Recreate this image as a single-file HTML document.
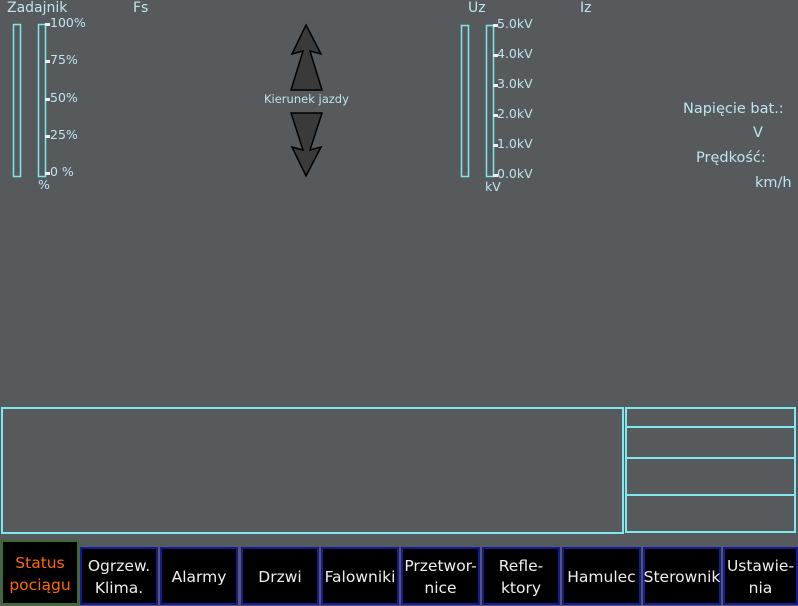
<!DOCTYPE html>
<html><head><style>
body{margin:0;width:798px;height:606px;background:#575a5c;position:relative;overflow:hidden;font-family:"DejaVu Sans","Liberation Sans",sans-serif;}
.t{position:absolute;color:#bfe4ee;white-space:nowrap;}
.b{position:absolute;border:2px solid #7fe8ee;box-sizing:border-box;}
.btn{position:absolute;background:#000;border:2px solid #101a9a;box-sizing:border-box;color:#eee;font-size:15.5px;display:flex;align-items:center;justify-content:center;text-align:center;line-height:22px;padding-top:2px;}
</style></head><body>
<div class="t" style="left:7px;top:0px;font-size:14px">Zadajnik</div>
<div class="t" style="left:133px;top:0px;font-size:14px">Fs</div>
<div class="t" style="left:468px;top:0px;font-size:14px">Uz</div>
<div class="t" style="left:580px;top:0px;font-size:14px">Iz</div>
<svg width="798" height="606" style="position:absolute;left:0;top:0">
<g fill="none" stroke="#7fe8ee" stroke-width="1.5">
<rect x="13.5" y="24.5" width="7" height="152"/>
<rect x="38.5" y="24.5" width="7" height="152"/>
<rect x="461.5" y="25.5" width="7" height="151"/>
<rect x="486.5" y="25.5" width="7" height="151"/>
</g>
<g fill="#eee">
<rect x="45" y="23" width="5" height="3"/><rect x="45" y="60" width="5" height="3"/><rect x="45" y="98" width="5" height="3"/><rect x="45" y="135" width="5" height="3"/><rect x="45" y="172" width="5" height="3"/>
<rect x="493" y="24" width="5" height="3"/><rect x="493" y="54" width="5" height="3"/><rect x="493" y="84" width="5" height="3"/><rect x="493" y="114" width="5" height="3"/><rect x="493" y="144" width="5" height="3"/><rect x="493" y="174" width="5" height="3"/>
</g>
<g fill="#3a3a3a" stroke="#000" stroke-width="1.5">
<polygon points="306,25 321,54 310,51 322,90 291,90 303,51 292,54"/>
<polygon points="306,176 321,147 310,150 322,113 291,113 303,150 292,147"/>
</g>
</svg>
<div class="t" style="left:50px;top:15px;font-size:12.5px">100%</div>
<div class="t" style="left:50px;top:52px;font-size:12.5px">75%</div>
<div class="t" style="left:50px;top:90px;font-size:12.5px">50%</div>
<div class="t" style="left:50px;top:127px;font-size:12.5px">25%</div>
<div class="t" style="left:50px;top:164px;font-size:12.5px">0 %</div>
<div class="t" style="left:38px;top:177px;font-size:12.5px">%</div>
<div class="t" style="left:497px;top:16px;font-size:12.5px">5.0kV</div>
<div class="t" style="left:497px;top:46px;font-size:12.5px">4.0kV</div>
<div class="t" style="left:497px;top:76px;font-size:12.5px">3.0kV</div>
<div class="t" style="left:497px;top:106px;font-size:12.5px">2.0kV</div>
<div class="t" style="left:497px;top:136px;font-size:12.5px">1.0kV</div>
<div class="t" style="left:497px;top:166px;font-size:12.5px">0.0kV</div>
<div class="t" style="left:485px;top:179px;font-size:12.5px">kV</div>
<div class="t" style="left:264px;top:92px;font-size:11.5px">Kierunek jazdy</div>
<div class="t" style="left:683px;top:101px;font-size:14.5px">Napięcie bat.:</div>
<div class="t" style="left:753px;top:125px;font-size:14.5px">V</div>
<div class="t" style="left:696px;top:150px;font-size:14.5px">Prędkość:</div>
<div class="t" style="left:755px;top:175px;font-size:14.5px">km/h</div>
<div class="b" style="left:1px;top:407px;width:623px;height:127px"></div>
<div class="b" style="left:625px;top:407px;width:171px;height:126px"></div>
<div class="b" style="left:625px;top:426px;width:171px;height:2px;border-width:1px"></div>
<div class="b" style="left:625px;top:457px;width:171px;height:2px;border-width:1px"></div>
<div class="b" style="left:625px;top:494px;width:171px;height:2px;border-width:1px"></div>
<div class="btn" style="left:1px;top:540px;width:78px;height:65px;border-color:#3d6b2e;color:#ff6a00">Status<br>pociągu</div>
<div class="btn" style="left:80px;top:547px;width:78px;height:58px">Ogrzew.<br>Klima.</div>
<div class="btn" style="left:160px;top:547px;width:78px;height:58px">Alarmy</div>
<div class="btn" style="left:241px;top:547px;width:78px;height:58px">Drzwi</div>
<div class="btn" style="left:321px;top:547px;width:78px;height:58px">Falowniki</div>
<div class="btn" style="left:401px;top:547px;width:79px;height:58px">Przetwor-<br>nice</div>
<div class="btn" style="left:482px;top:547px;width:78px;height:58px">Refle-<br>ktory</div>
<div class="btn" style="left:562px;top:547px;width:79px;height:58px">Hamulec</div>
<div class="btn" style="left:643px;top:547px;width:78px;height:58px">Sterownik</div>
<div class="btn" style="left:723px;top:547px;width:75px;height:58px">Ustawie-<br>nia</div>
</body></html>
